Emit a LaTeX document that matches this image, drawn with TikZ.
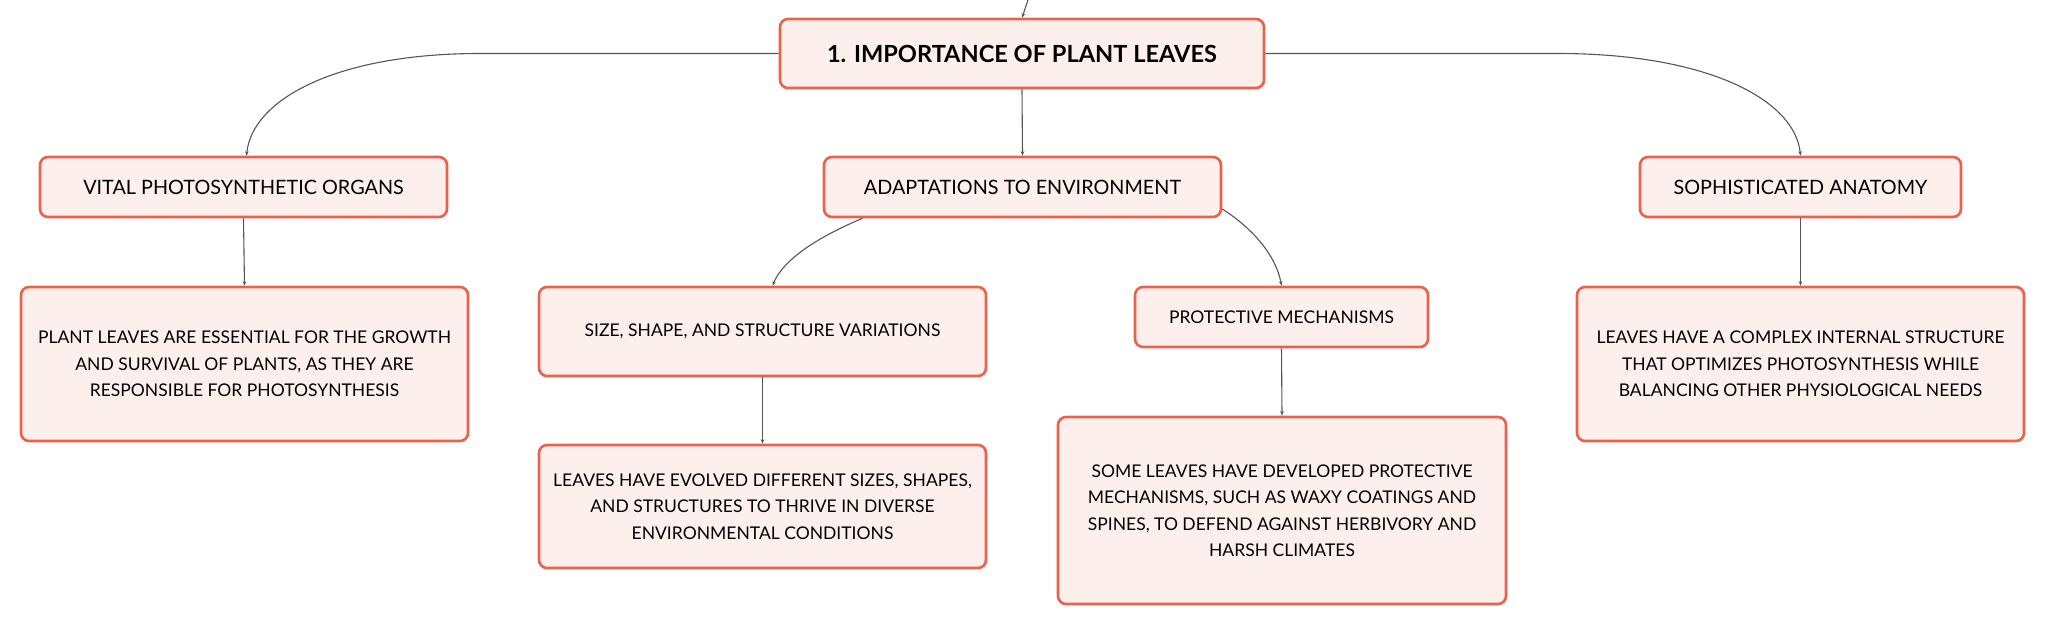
\documentclass[tikz,border=0pt]{standalone}
\usepackage{fontspec}
\setmainfont{Lato}
\usetikzlibrary{arrows.meta}
\definecolor{bordc}{RGB}{234,98,78}
\definecolor{fillc}{RGB}{253,240,236}
\definecolor{linec}{RGB}{85,85,85}
\tikzset{
  box/.style={draw=bordc, fill=fillc, line width=2.6pt, rounded corners=8pt,
    align=center, inner sep=0pt, text=black},
  titlebox/.style={box, font=\fontsize{23.6}{30}\selectfont\bfseries},
  lvlone/.style={box, font=\fontsize{19.8}{26}\selectfont},
  lvltwo/.style={box, font=\fontsize{17.5}{26.5}\selectfont},
  conn/.style={draw=linec, line width=1.1pt, -{Stealth[length=4.5pt,width=3.6pt]}}
}
\begin{document}
\begin{tikzpicture}[x=1pt,y=-1pt]
\useasboundingbox (0,0) rectangle (2046,624);
\coordinate (top) at (1028,0);
\node[titlebox, minimum width=484pt, minimum height=69pt] (main) at (1022,53.5) {1. IMPORTANCE OF PLANT LEAVES};
\node[lvlone, minimum width=407pt, minimum height=60pt] (vital) at (243.5,187) {VITAL PHOTOSYNTHETIC ORGANS};
\node[lvlone, minimum width=397pt, minimum height=60pt] (adapt) at (1022.5,187) {ADAPTATIONS TO ENVIRONMENT};
\node[lvlone, minimum width=321pt, minimum height=60pt] (soph) at (1800.5,187) {SOPHISTICATED ANATOMY};
\node[lvltwo, minimum width=447pt, minimum height=154pt] (plant) at (244.5,364) {PLANT LEAVES ARE ESSENTIAL FOR THE GROWTH\\AND SURVIVAL OF PLANTS, AS THEY ARE\\RESPONSIBLE FOR PHOTOSYNTHESIS};
\node[lvltwo, minimum width=447pt, minimum height=89pt] (size) at (762.5,331.5) {SIZE, SHAPE, AND STRUCTURE VARIATIONS};
\node[lvltwo, minimum width=447pt, minimum height=123pt] (evolved) at (762.5,506.5) {LEAVES HAVE EVOLVED DIFFERENT SIZES, SHAPES,\\AND STRUCTURES TO THRIVE IN DIVERSE\\ENVIRONMENTAL CONDITIONS};
\node[lvltwo, minimum width=293pt, minimum height=60pt] (prot) at (1281.5,317) {PROTECTIVE MECHANISMS};
\node[lvltwo, minimum width=448pt, minimum height=187pt] (some) at (1282,510.5) {SOME LEAVES HAVE DEVELOPED PROTECTIVE\\MECHANISMS, SUCH AS WAXY COATINGS AND\\SPINES, TO DEFEND AGAINST HERBIVORY AND\\HARSH CLIMATES};
\node[lvltwo, minimum width=447pt, minimum height=154pt] (complex) at (1800.5,364) {LEAVES HAVE A COMPLEX INTERNAL STRUCTURE\\THAT OPTIMIZES PHOTOSYNTHESIS WHILE\\BALANCING OTHER PHYSIOLOGICAL NEEDS};
\draw[conn] (top) -- (main.north);
\draw[conn] (main.west) -- (480,53.5) .. controls (335,53.5) and (252,100) .. ([xshift=3pt]vital.north);
\draw[conn] (main.east) -- (1558,53.5) .. controls (1708,53.5) and (1795,100) .. (soph.north);
\draw[conn] (main.south) -- (adapt.north);
\draw[conn] (vital.south) -- (plant.north);
\draw[conn] ([xshift=-160pt]adapt.south) .. controls (830,232) and (785,255) .. ([xshift=10pt]size.north);
\draw[conn] ([yshift=-22pt]adapt.east) .. controls (1252,228) and (1276,255) .. (prot.north);
\draw[conn] (size.south) -- (evolved.north);
\draw[conn] (prot.south) -- (some.north);
\draw[conn] (soph.south) -- (complex.north);
\end{tikzpicture}
\end{document}
